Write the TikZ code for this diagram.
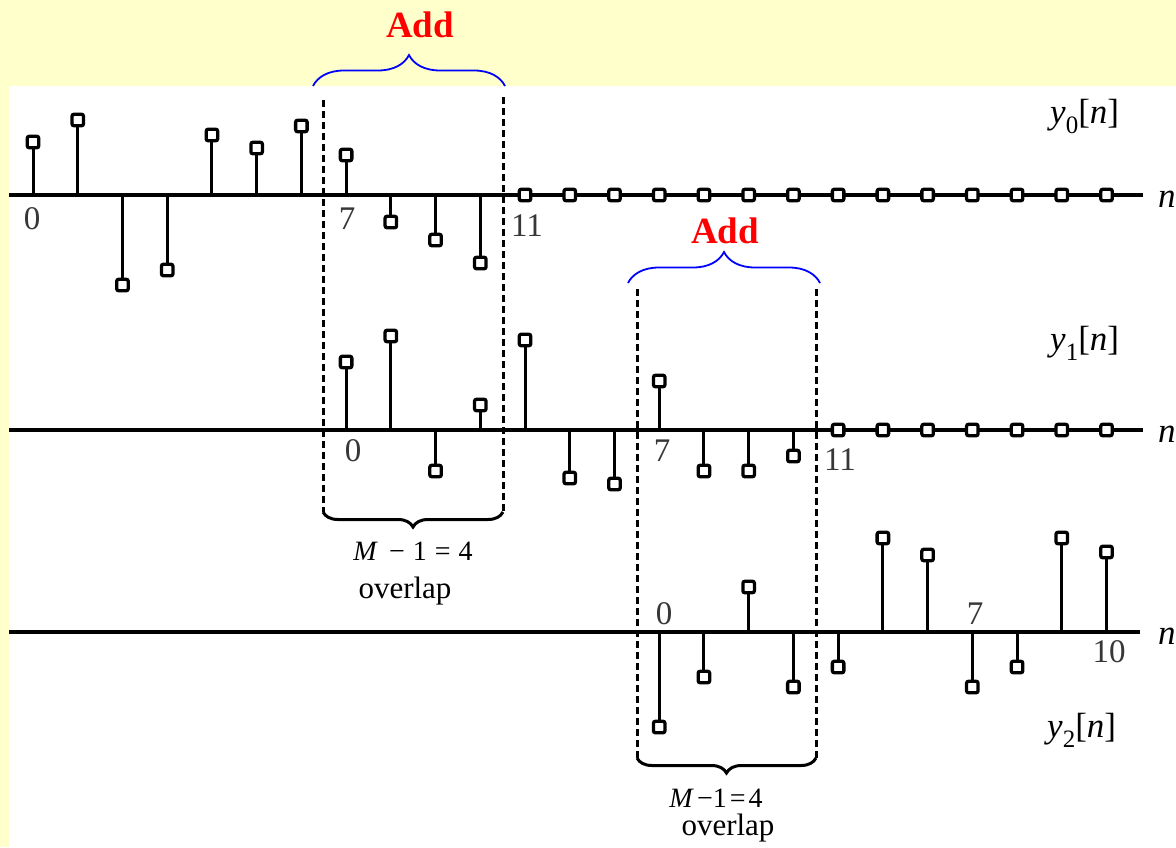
\documentclass[tikz,border=0pt]{standalone}
\usepackage{fontspec}
\setmainfont{Liberation Serif}
\usetikzlibrary{decorations.pathreplacing}
\definecolor{fondo}{RGB}{255,255,204}
\definecolor{indice}{RGB}{55,55,55}

\tikzset{
  eje/.style={line width=4pt},
  tallo/.style={line width=3pt},
  muestra/.style={draw,line width=3.3pt,fill=white,rounded corners=2pt,minimum size=11.5pt,inner sep=0pt},
  guia/.style={line width=3pt,dash pattern=on 7pt off 4pt},
  llave/.style={line width=3pt,decorate,decoration={brace,amplitude=15pt}},
  suma/.style={blue,line width=1.8pt,decorate,decoration={brace,amplitude=31pt}},
  rotulo/.style={red,font=\fontsize{37}{37}\selectfont\bfseries,anchor=base},
  indice/.style={text=indice,font=\fontsize{33}{33}\selectfont,inner sep=0pt},
  senal/.style={font=\fontsize{35}{35}\selectfont,anchor=base west,inner sep=0pt},
  nota/.style={font=\fontsize{28}{28}\selectfont,anchor=base,inner sep=0pt},
  notab/.style={font=\fontsize{31}{31}\selectfont,anchor=base,inner sep=0pt}
}

\begin{document}
\begin{tikzpicture}[x=1pt,y=-1pt]
        % Fondo
        \useasboundingbox (0,0) rectangle (1176,847);
        \fill[fondo] (0,0) rectangle (1176,847);
        \fill[white] (9,86) rectangle (1176,847);

        % Ejes
        \coordinate (e0i) at (9,195);  \coordinate (e0f) at (1143,195);
        \coordinate (e1i) at (9,430);  \coordinate (e1f) at (1143,430);
        \coordinate (e2i) at (9,632);  \coordinate (e2f) at (1140,632);
        \draw[eje] (e0i) -- (e0f);
        \draw[eje] (e1i) -- (e1f);
        \draw[eje] (e2i) -- (e2f);

        % Muestras de y0[n]
        \foreach \k/\v in {0/142,1/120,2/285,3/270,4/135,5/148,6/126,7/155,8/222,9/240,10/263}{
          \coordinate (b0-\k) at (33+44.73*\k,195);
          \node[muestra] (m0-\k) at (33+44.73*\k,\v) {};
          \draw[tallo] (b0-\k) -- (m0-\k);
        }
        \foreach \k in {11,...,24}
          \node[muestra] (m0-\k) at (33+44.73*\k,195) {};

        % Muestras de y1[n]
        \foreach \k/\v in {0/362,1/336,2/471,3/405,4/340,5/478,6/484,7/381,8/471,9/471,10/456}{
          \coordinate (b1-\k) at (33+44.73*\k+313.1,430);
          \node[muestra] (m1-\k) at (33+44.73*\k+313.1,\v) {};
          \draw[tallo] (b1-\k) -- (m1-\k);
        }
        \foreach \k in {11,...,17}
          \node[muestra] (m1-\k) at (33+44.73*\k+313.1,430) {};

        % Muestras de y2[n]
        \foreach \k/\v in {0/727,1/677,2/587,3/687,4/667,5/538,6/555,7/687,8/667,9/538,10/552}{
          \coordinate (b2-\k) at (33+44.73*\k+626.2,632);
          \node[muestra] (m2-\k) at (33+44.73*\k+626.2,\v) {};
          \draw[tallo] (b2-\k) -- (m2-\k);
        }

        % Indices
        \node[indice] (i0-0) at (32,219) {0};
        \node[indice] (i0-7) at (347,219) {7};
        \node[indice] (i0-11) at (527,226) {11};
        \node[indice] (i1-0) at (353,451) {0};
        \node[indice] (i1-7) at (662,451) {7};
        \node[indice] (i1-11) at (840,460) {11};
        \node[indice] (i2-0) at (664,614) {0};
        \node[indice] (i2-7) at (975,614) {7};
        \node[indice] (i2-10) at (1109,652) {10};

        % Nombres de las senales y de los ejes
        \node[senal] (y0) at (1050,123) {\textit{y}\raisebox{-10pt}{\fontsize{25}{25}\selectfont 0}[\textit{n}]};
        \node[senal] (y1) at (1050,350) {\textit{y}\raisebox{-10pt}{\fontsize{25}{25}\selectfont 1}[\textit{n}]};
        \node[senal] (y2) at (1047,737) {\textit{y}\raisebox{-10pt}{\fontsize{25}{25}\selectfont 2}[\textit{n}]};
        \node[senal] (n0) at (1158,207) {\textit{n}};
        \node[senal] (n1) at (1158,442) {\textit{n}};
        \node[senal] (n2) at (1158,644) {\textit{n}};

        % Lineas punteadas del solape
        \coordinate (g1a) at (323,100);  \coordinate (g1b) at (323,512);
        \coordinate (g2a) at (503,97);   \coordinate (g2b) at (503,512);
        \coordinate (g3a) at (637,289);  \coordinate (g3b) at (637,758);
        \coordinate (g4a) at (816,289);  \coordinate (g4b) at (816,758);
        \draw[guia] (g1a) -- (g1b);
        \draw[guia] (g2a) -- (g2b);
        \draw[guia] (g3a) -- (g3b);
        \draw[guia] (g4a) -- (g4b);

        % Llaves inferiores
        \draw[llave] (g2b) -- (g1b);
        \draw[llave] (g4b) -- (g3b);
        \node[nota] (r1) at (413,560) {\textit{M}\hspace{11pt}−\hspace{8pt}1\hspace{8pt}=\hspace{8pt}4};
        \node[notab] (o1) at (405,598) {overlap};
        \node[nota] (r2) at (716,807) {\textit{M}\hspace{3pt}−1\hspace{3pt}=\hspace{3pt}4};
        \node[notab] (o2) at (728,835) {overlap};

        % Llaves superiores (suma)
        \coordinate (s1i) at (313,86);   \coordinate (s1f) at (505,86);
        \coordinate (s2i) at (628,283);  \coordinate (s2f) at (820,283);
        \draw[suma] (s1i) -- (s1f);
        \draw[suma] (s2i) -- (s2f);
        \node[rotulo] (a1) at (420,37) {Add};
        \node[rotulo] (a2) at (725,243) {Add};
\end{tikzpicture}
\end{document}
